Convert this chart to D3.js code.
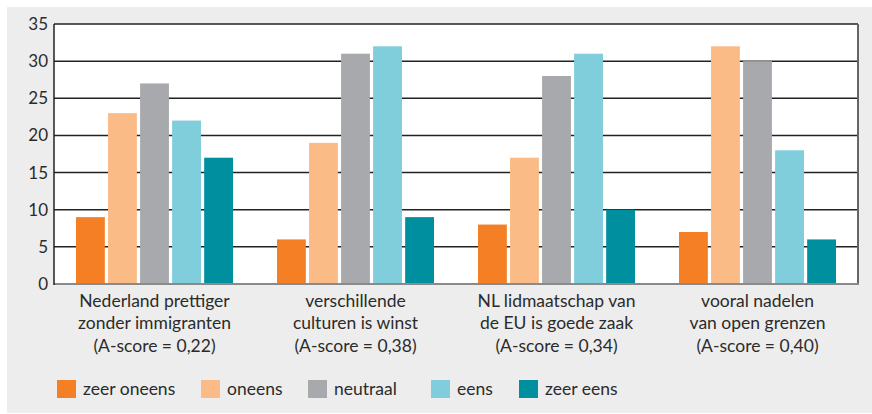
<!DOCTYPE html>
<html>
<head>
<meta charset="utf-8">
<script src="https://cdn.jsdelivr.net/npm/d3@7"></script>
<style>
  body { margin: 0; background: #fff; }
  svg text { font-family: Lato, "Open Sans", sans-serif; fill: #2b2b2b; }
</style>
</head>
<body>
<script>
// categories (each one has three text lines)
var categories = [
  ["Nederland prettiger", "zonder immigranten", "(A-score = 0,22)"],
  ["verschillende", "culturen is winst", "(A-score = 0,38)"],
  ["NL lidmaatschap van", "de EU is goede zaak", "(A-score = 0,34)"],
  ["vooral nadelen", "van open grenzen", "(A-score = 0,40)"]
];
var seriesNames = ["zeer oneens", "oneens", "neutraal", "eens", "zeer eens"];
var seriesColors = ["#f47f24", "#fbbb86", "#a8a9ad", "#80cddb", "#008f9e"];

// one array per category, in series order
var values = [
  [9, 23, 27, 22, 17],
  [6, 19, 31, 32, 9],
  [8, 17, 28, 31, 10],
  [7, 32, 30, 18, 6]
];
var yTicks = [0, 5, 10, 15, 20, 25, 30, 35];

var W = 872, H = 414;
var plot = {left: 54, right: 858, top: 24, bottom: 284};

var svg = d3.select("body").append("svg")
  .attr("width", W)
  .attr("height", H);

// grey panel behind everything
svg.append("rect")
  .attr("x", 7).attr("y", 7)
  .attr("width", W - 7).attr("height", H - 8)
  .attr("fill", "#ededed");

svg.append("rect")
  .attr("x", plot.left).attr("y", plot.top)
  .attr("width", plot.right - plot.left)
  .attr("height", plot.bottom - plot.top)
  .attr("fill", "#fff");

var x0 = d3.scaleBand()
  .domain(d3.range(categories.length))
  .range([plot.left, plot.right]);

var x1 = d3.scaleBand()
  .domain(d3.range(seriesNames.length))
  .range([22, x0.bandwidth() - 22])
  .paddingInner(0.1);

var y = d3.scaleLinear()
  .domain([0, 35])
  .range([plot.bottom, plot.top]);

// gridlines
svg.append("g")
  .selectAll("line")
  .data(yTicks.filter(function(d) { return d > 0; }))
  .enter().append("line")
  .attr("x1", plot.left).attr("x2", plot.right)
  .attr("y1", function(d) { return y(d); })
  .attr("y2", function(d) { return y(d); })
  .attr("stroke", "#222")
  .attr("stroke-width", 1.5);

// bars
var groups = svg.append("g")
  .selectAll("g")
  .data(values)
  .enter().append("g")
  .attr("transform", function(d, i) { return "translate(" + x0(i) + ",0)"; });

groups.selectAll("rect")
  .data(function(d) { return d; })
  .enter().append("rect")
  .attr("x", function(d, i) { return x1(i); })
  .attr("width", x1.bandwidth())
  .attr("y", function(d) { return y(d); })
  .attr("height", function(d) { return y(0) - y(d); })
  .attr("fill", function(d, i) { return seriesColors[i]; });

// frame
svg.append("line")
  .attr("x1", plot.right).attr("x2", plot.right)
  .attr("y1", plot.top).attr("y2", plot.bottom)
  .attr("stroke", "#666").attr("stroke-width", 2);
svg.append("line")
  .attr("x1", plot.left).attr("x2", plot.right + 1)
  .attr("y1", plot.bottom).attr("y2", plot.bottom)
  .attr("stroke", "#8a8a8a").attr("stroke-width", 2);
svg.append("line")
  .attr("x1", plot.left).attr("x2", plot.left)
  .attr("y1", plot.top).attr("y2", plot.bottom + 1)
  .attr("stroke", "#222").attr("stroke-width", 1.5);

// y axis labels
var yAxis = d3.axisLeft(y).tickValues(yTicks).tickSize(0).tickPadding(6);
var yg = svg.append("g")
  .attr("transform", "translate(" + plot.left + ",0)")
  .call(yAxis);
yg.select(".domain").remove();
yg.selectAll("text")
  .attr("font-size", 17)
  .attr("fill", "#2b2b2b")
  .style("font-family", "Lato, 'Open Sans', sans-serif");

// category labels
var catG = svg.append("g")
  .selectAll("text")
  .data(categories)
  .enter().append("text")
  .attr("text-anchor", "middle")
  .attr("font-size", 17.5)
  .attr("x", function(d, i) { return x0(i) + x0.bandwidth() / 2; });

catG.selectAll("tspan")
  .data(function(d) { return d; })
  .enter().append("tspan")
  .attr("x", function() { return d3.select(this.parentNode).attr("x"); })
  .attr("y", function(d, i) { return 306.5 + i * 22.5; })
  .text(function(d) { return d; });

// legend
var legendX = [57, 201, 308, 431, 519];
var legend = svg.append("g")
  .selectAll("g")
  .data(seriesNames)
  .enter().append("g")
  .attr("transform", function(d, i) { return "translate(" + legendX[i] + ",380)"; });

legend.append("rect")
  .attr("width", 19).attr("height", 18)
  .attr("fill", function(d, i) { return seriesColors[i]; });

legend.append("text")
  .attr("x", 26).attr("y", 15)
  .attr("font-size", 17.5)
  .text(function(d) { return d; });
</script>
</body>
</html>
